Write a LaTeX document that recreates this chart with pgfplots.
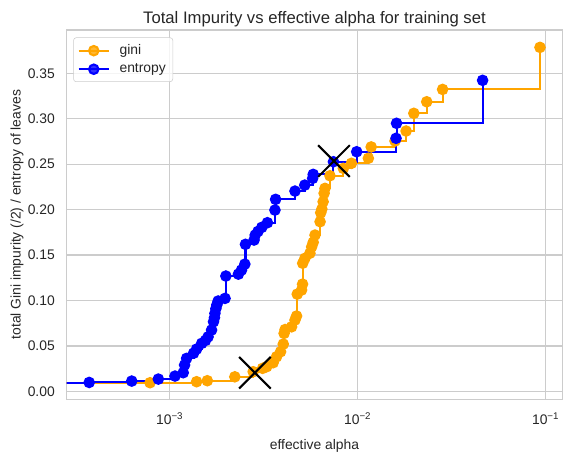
\documentclass[border=0pt]{standalone}
\usepackage{fontspec}
\setmainfont{Liberation Sans}
\usepackage{pgfplots}
\pgfplotsset{compat=1.18}
\definecolor{gridgray}{HTML}{CCCCCC}
\definecolor{txt}{HTML}{262626}
\definecolor{mplorange}{HTML}{FFA500}
\definecolor{mplblue}{HTML}{0000FF}

\begin{document}
\begin{tikzpicture}
\begin{axis}[
    name=ax,
    scale only axis, width=356.8pt, height=265.9pt,
    xmode=log, xmin=2.83e-4, xmax=0.1226,
    ymin=-0.0088, ymax=0.3977,
    xtick={1e-3,1e-2,1e-1},
    xticklabels={10\textsuperscript{−3},10\textsuperscript{−2},10\textsuperscript{−1}},
    ytick={0,0.05,0.10,0.15,0.20,0.25,0.30,0.35},
    /pgf/number format/fixed, /pgf/number format/fixed zerofill,
    /pgf/number format/precision=2, /pgf/number format/assume math mode=true,
    tick label style={font=\fontsize{10}{12}\selectfont, text=txt},
    xticklabel style={yshift=-6pt},
    yticklabel style={xshift=-5pt},
    major tick length=0pt, minor tick length=0pt, tick style={draw=none},
    axis line style={gridgray, line width=1pt},
    grid=major, major grid style={gridgray, line width=1pt},
    every axis title shift=0pt,
    title={Total Impurity vs effective alpha for training set},
    title style={font=\fontsize{12}{14}\selectfont, text=txt,
        at={(axis description cs:0.5,1)}, anchor=base, yshift=4.8pt},
    xlabel={effective alpha},
    xlabel style={font=\fontsize{10}{12}\selectfont, text=txt,
        at={(axis description cs:0.5,-0.125)}, anchor=center},
    ylabel={total Gini impurity (/2) / entropy of leaves},
    ylabel style={font=\fontsize{10}{12}\selectfont, text=txt,
        at={(axis description cs:-0.1,0.5)}, anchor=center, rotate=0},
    legend cell align=left,
    legend style={at={(0.0133,0.980)}, anchor=north west, draw=gridgray,
        fill=white, fill opacity=0.8, text opacity=1, rounded corners=2pt,
        font=\fontsize{10}{12}\selectfont, text=txt, row sep=1pt,
        inner xsep=3pt, inner ysep=3pt,
        /tikz/every odd column/.append style={column sep=5pt}},
    legend image code/.code={\draw[sharp plot, mark repeat=2, mark phase=2]
        plot coordinates {(0cm,0cm) (0.38cm,0cm) (0.76cm,0cm)};},
]
% gini
\addplot[mplorange, line width=1.5pt, const plot, mark=*, mark size=3.4pt,
    mark options={solid, fill=mplorange, draw=none}] coordinates {
(1e-5,0.0092) (7.86e-4,0.0095) (1.39e-3,0.0106) (1.585e-3,0.0117)
(2.22e-3,0.016) (2.78e-3,0.0216) (3.12e-3,0.0253) (3.28e-3,0.0271)
(3.55e-3,0.0315) (3.70e-3,0.038) (3.89e-3,0.0436) (4.02e-3,0.052)
(4.06e-3,0.0638) (4.11e-3,0.068) (4.45e-3,0.071) (4.64e-3,0.0785)
(4.73e-3,0.0829) (4.77e-3,0.107) (5.03e-3,0.1115) (5.09e-3,0.118)
(5.10e-3,0.141) (5.24e-3,0.1464) (5.57e-3,0.152) (5.69e-3,0.159)
(5.80e-3,0.164) (5.93e-3,0.172) (6.31e-3,0.1867) (6.36e-3,0.1966)
(6.45e-3,0.2006) (6.55e-3,0.2087) (6.63e-3,0.218) (6.70e-3,0.2234)
(7.12e-3,0.2373) (8.39e-3,0.2454) (9.27e-3,0.251) (1.14e-2,0.2565)
(1.18e-2,0.269) (1.58e-2,0.2755) (1.81e-2,0.2865) (1.99e-2,0.306)
(2.33e-2,0.3187) (2.83e-2,0.3323) (9.33e-2,0.3786)
};
\addlegendentry{gini}
% entropy
\addplot[mplblue, line width=1.5pt, const plot, mark=*, mark size=3.4pt,
    mark options={solid, fill=mplblue, draw=none}] coordinates {
(1e-5,0.0095) (3.73e-4,0.0098) (6.28e-4,0.0113) (8.7e-4,0.0135)
(1.067e-3,0.0168) (1.18e-3,0.0205) (1.20e-3,0.029) (1.23e-3,0.0363)
(1.34e-3,0.042) (1.39e-3,0.0465) (1.48e-3,0.0528) (1.55e-3,0.056)
(1.60e-3,0.060) (1.67e-3,0.0675) (1.71e-3,0.0766) (1.73e-3,0.081)
(1.74e-3,0.0858) (1.76e-3,0.091) (1.78e-3,0.095) (1.81e-3,0.0994)
(1.97e-3,0.1023) (1.99e-3,0.1269) (2.32e-3,0.129) (2.41e-3,0.1335)
(2.51e-3,0.140) (2.53e-3,0.1618) (2.81e-3,0.1665) (2.85e-3,0.172)
(2.95e-3,0.176) (3.09e-3,0.1805) (3.31e-3,0.1856) (3.63e-3,0.1995)
(3.66e-3,0.2113) (4.64e-3,0.2204) (5.23e-3,0.227) (5.76e-3,0.2344)
(5.80e-3,0.2388) (7.43e-3,0.2527) (9.88e-3,0.2637) (1.60e-2,0.2785)
(1.61e-2,0.295) (4.62e-2,0.3423)
};
\addlegendentry{entropy}
% chosen alphas
\addplot[only marks, mark=x, mark size=16.1pt, mark options={black, line width=1.5pt},
    forget plot] coordinates {(2.84e-3,0.0205) (7.48e-3,0.2535)};
\end{axis}
\pgfresetboundingbox
\path[use as bounding box] ([shift={(-48pt,-43.7pt)}]ax.south west)
    rectangle ([shift={(7pt,21.6pt)}]ax.north east);
\end{tikzpicture}
\end{document}
